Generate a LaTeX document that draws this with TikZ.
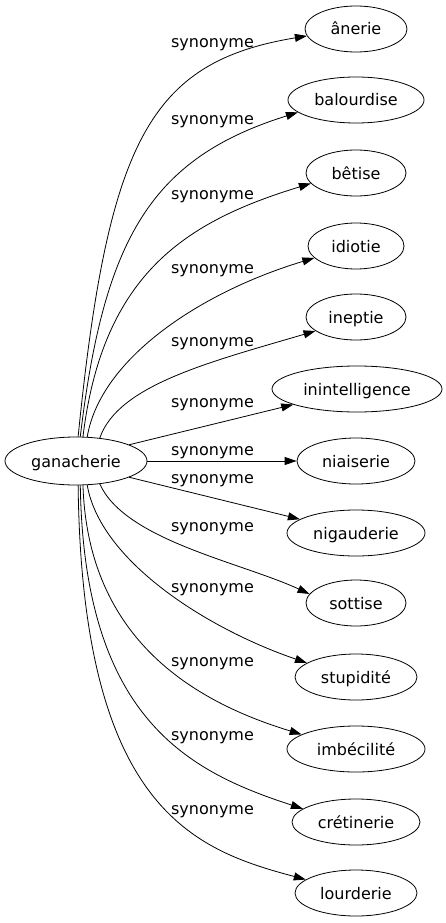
\documentclass[tikz,border=0pt]{standalone}
\usepackage{fontspec}
\setmainfont{DejaVu Sans}
\usetikzlibrary{shapes.geometric,arrows.meta}
\tikzset{
  word/.style={ellipse,draw,line width=0.8pt,inner sep=0pt,minimum height=46pt,
    font=\fontsize{16}{19}\selectfont,text height=16pt,text depth=4pt},
  lbl/.style={inner sep=0pt,font=\fontsize{16}{19}\selectfont,text height=16pt,text depth=4pt},
  edge/.style={line width=0.8pt,-{Triangle[length=12pt,width=8pt]}}
}
\begin{document}
\begin{tikzpicture}[x=1pt,y=-1pt]
\useasboundingbox (0,0) rectangle (446,923);
\node[word,minimum width=142pt,minimum height=48pt] (g) at (76,461) {ganacherie};
\node[word,minimum width=102pt] (n1) at (356,29) {ânerie};
\node[word,minimum width=136pt] (n2) at (356,100) {balourdise};
\node[word,minimum width=100pt] (n3) at (356,173) {bêtise};
\node[word,minimum width=96pt] (n4) at (356,246) {idiotie};
\node[word,minimum width=100pt] (n5) at (356,317) {ineptie};
\node[word,minimum width=170pt] (n6) at (357,389) {inintelligence};
\node[word,minimum width=118pt] (n7) at (356,461) {niaiserie};
\node[word,minimum width=138pt] (n8) at (356,533) {nigauderie};
\node[word,minimum width=100pt] (n9) at (356,603) {sottise};
\node[word,minimum width=122pt] (n10) at (356,677) {stupidité};
\node[word,minimum width=138pt] (n11) at (356,749) {imbécilité};
\node[word,minimum width=128pt] (n12) at (356,822) {crétinerie};
\node[word,minimum width=122pt] (n13) at (356,893) {lourderie};

\node[lbl] (l1) at (212.5,41.5) {synonyme};
\node[lbl] (l2) at (212.5,118.5) {synonyme};
\node[lbl] (l3) at (212.5,193.5) {synonyme};
\node[lbl] (l4) at (212.5,267.5) {synonyme};
\node[lbl] (l5) at (212.5,340.5) {synonyme};
\node[lbl] (l6) at (212.5,401.5) {synonyme};
\node[lbl] (l7) at (212.5,449.5) {synonyme};
\node[lbl] (l8) at (212.5,477.5) {synonyme};
\node[lbl] (l9) at (212.5,525.5) {synonyme};
\node[lbl] (l10) at (212.5,586.5) {synonyme};
\node[lbl] (l11) at (212.5,660.5) {synonyme};
\node[lbl] (l12) at (212.5,734.5) {synonyme};
\node[lbl] (l13) at (212.5,808.5) {synonyme};

\draw[edge] (g.85) .. controls (108,140) and (150,62) .. (n1.188);
\draw[edge] (g.80) .. controls (104,237) and (152,158) .. (n2.192);
\draw[edge] (g.74) .. controls (103,272) and (188,221) .. (n3.193);
\draw[edge] (g.65) .. controls (100,360) and (198,293) .. (n4.196);
\draw[edge] (g.44) .. controls (118,385) and (210,362) .. (n5.199);
\draw[edge] (g.17) -- (n6);
\draw[edge] (g) -- (n7);
\draw[edge] (g.-17) -- (n8);
\draw[edge] (g.-44) .. controls (125,540) and (240,562) .. (n9.169);
\draw[edge] (g.-65) .. controls (100,560) and (205,628) .. (n10.164);
\draw[edge] (g.-74) .. controls (88,640) and (195,702) .. (n11.165);
\draw[edge] (g.-80) .. controls (84,720) and (190,772) .. (n12.166);
\draw[edge] (g.-85) .. controls (82,810) and (195,850) .. (n13.165);
\end{tikzpicture}
\end{document}
